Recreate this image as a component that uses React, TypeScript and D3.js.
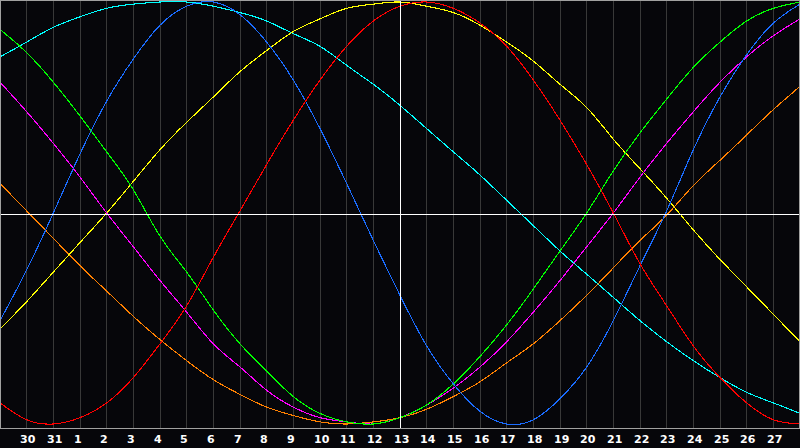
import React from 'react';
import * as d3 from 'd3';

// Days shown along the bottom (first and last are at the chart edges, unlabeled)
const days = [29, 30, 31, 1, 2, 3, 4, 5, 6, 7, 8, 9, 10, 11, 12, 13, 14, 15, 16, 17, 18, 19, 20, 21, 22, 23, 24, 25, 26, 27, 28];
const tickLabels = days.slice(1, days.length - 1).map(String);

// Cycle values in percent, one per day
const physical = [-51, -27, 0, 28, 53, 73, 89, 98, 100, 94, 81, 63, 40, 14, -13, -39, -63, -81, -94, -100, -98, -88, -73, -51, -25, 1, 30, 55, 75, 90, 99];
const emotional = [-90, -98, -100, -97, -90, -78, -62, -44, -21, 1, 23, 44, 63, 79, 91, 98, 100, 97, 90, 79, 63, 44, 23, 0, -24, -44, -63, -78, -90, -98, -100];
const intellectual = [87, 76, 62, 46, 29, 11, -11, -28, -46, -62, -75, -87, -95, -99, -100, -97, -91, -81, -68, -53, -36, -18, 0, 20, 38, 54, 69, 81, 91, 97, 100];
const intuitive = [62, 48, 33, 17, 0, -16, -32, -47, -62, -73, -84, -92, -97, -99, -100, -97, -91, -83, -73, -61, -47, -32, -16, 0, 17, 33, 48, 62, 74, 84, 92];
const aesthetic = [-55, -42, -28, -14, 0, 15, 30, 43, 55, 67, 77, 86, 92, 97, 99, 100, 98, 95, 89, 81, 72, 61, 50, 35, 21, 7, -8, -22, -35, -48, -61];
const awareness = [14, 1, -12, -25, -37, -49, -60, -70, -79, -86, -92, -96, -99, -100, -99, -97, -93, -87, -80, -71, -62, -51, -39, -26, -13, -1, 13, 25, 37, 49, 60];
const spiritual = [74, 81, 88, 93, 97, 99, 100, 100, 98, 95, 91, 85, 79, 70, 61, 51, 40, 29, 18, 6, -6, -18, -29, -40, -51, -61, -70, -78, -85, -90, -95];

const seriesNames = ['spiritual', 'awareness', 'aesthetic', 'intuitive', 'intellectual', 'physical', 'emotional'];
const seriesData = [spiritual, awareness, aesthetic, intuitive, intellectual, physical, emotional];
const seriesColors = ['#00ffff', '#ff8000', '#ffff00', '#ff00ff', '#00ff00', '#1a6cff', '#ff0000'];

const todayIndex = 15;

export default function App() {
  const W = 800;
  const H = 448;
  const plotBottom = 428;
  const x = d3.scaleLinear().domain([0, days.length - 1]).range([0, W]);
  const y = d3.scaleLinear().domain([-100, 100]).range([424, 2]);
  const line = d3
    .line<number>()
    .x((_, i) => x(i))
    .y((d) => y(d))
    .curve(d3.curveNatural);

  const gridIdx = d3.range(1, days.length - 1);
  const zeroY = Math.round(y(0)) + 1.5;
  const todayX = Math.floor(x(todayIndex)) + 0.5;

  return (
    <svg
      width={W}
      height={H}
      style={{ position: 'fixed', left: 0, top: 0, display: 'block', background: '#06060a' }}
    >
      <rect x={0} y={0} width={W} height={H} fill="#06060a" />
      {gridIdx.map((i) => (
        <line
          key={'g' + i}
          x1={Math.floor(x(i)) + 0.5}
          x2={Math.floor(x(i)) + 0.5}
          y1={0}
          y2={plotBottom}
          stroke="#383838"
          strokeWidth={1}
          shapeRendering="crispEdges"
        />
      ))}
      {seriesData.map((d, si) => (
        <path
          key={seriesNames[si]}
          d={line(d) || ''}
          fill="none"
          stroke={seriesColors[si]}
          strokeWidth={1.1}
          shapeRendering="crispEdges"
        />
      ))}
      <line x1={todayX} x2={todayX} y1={0} y2={plotBottom} stroke="#ffffff" strokeWidth={1} shapeRendering="crispEdges" />
      <line x1={0} x2={W} y1={zeroY} y2={zeroY} stroke="#ffffff" strokeWidth={1} shapeRendering="crispEdges" />
      <rect x={0.5} y={0.5} width={W - 1} height={plotBottom} fill="none" stroke="#a0a0a0" strokeWidth={1} shapeRendering="crispEdges" />
      {tickLabels.map((t, j) => (
        <text
          key={'t' + j}
          x={Math.floor(x(j + 1)) - 6}
          y={443}
          fill="#ffffff"
          fontFamily="'DejaVu Sans', sans-serif"
          fontWeight="bold"
          fontSize={11}
          textAnchor="start"
        >
          {t}
        </text>
      ))}
    </svg>
  );
}
